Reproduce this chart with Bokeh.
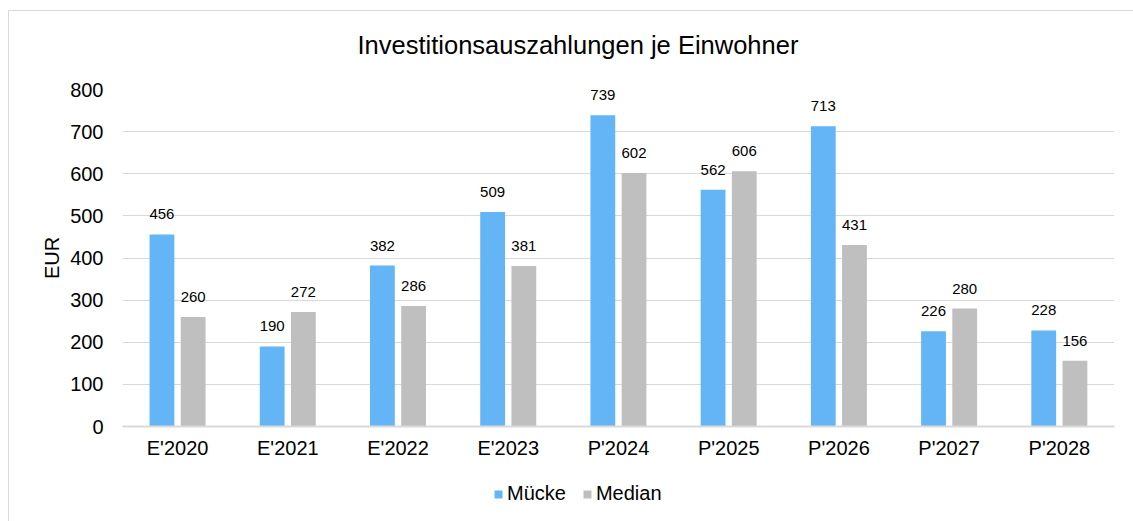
from bokeh.plotting import figure
from bokeh.layouts import column
from bokeh.models import ColumnDataSource, FactorRange, Range1d, LabelSet, Label, Legend, LegendItem
from bokeh.transform import dodge
from bokeh.core.properties import value
from bokeh.embed import file_html
from bokeh.resources import INLINE

title_text = "Investitionsauszahlungen je Einwohner"
categories = ["E'2020", "E'2021", "E'2022", "E'2023", "P'2024", "P'2025", "P'2026", "P'2027", "P'2028"]
muecke = [456, 190, 382, 509, 739, 562, 713, 226, 228]
median = [260, 272, 286, 381, 602, 606, 431, 280, 156]
series_names = ["Mücke", "Median"]
y_ticks = [0, 100, 200, 300, 400, 500, 600, 700, 800]

FONT = "Liberation Sans"
BLUE = "#63B5F6"
GREY = "#BFBFBF"
BORDER = "1px solid #d9d9d9"

src = ColumnDataSource(dict(
    cat=categories,
    m=muecke,
    d=median,
    ml=[str(v) for v in muecke],
    dl=[str(v) for v in median],
))

# title strip
pt = figure(width=1125, height=60, output_backend="svg", toolbar_location=None,
            x_axis_type=None, y_axis_type=None, min_border=0)
pt.styles = {"border-left": BORDER, "border-top": BORDER}
pt.outline_line_color = None
pt.grid.visible = False
pt.add_layout(Label(x=235, y=27, x_units="screen", y_units="screen", text=title_text,
                    text_align="left", text_baseline="middle", text_font=FONT,
                    text_font_size="25.5px", text_color="#000000"))

p = figure(
    width=1125, height=406,
    x_range=FactorRange(*categories, range_padding=0),
    y_range=Range1d(0, 800),
    output_backend="svg", toolbar_location=None,
    min_border_left=113, min_border_right=20, min_border_top=19, min_border_bottom=50,
)
p.styles = {"border-left": BORDER}
p.outline_line_color = None
p.background_fill_color = "white"
p.border_fill_color = "white"

r1 = p.vbar(x=dodge("cat", -0.142, range=p.x_range), top="m", width=0.225, source=src,
            fill_color=BLUE, line_color=None)
r2 = p.vbar(x=dodge("cat", 0.141, range=p.x_range), top="d", width=0.225, source=src,
            fill_color=GREY, line_color=None)

for col, lab, off in (("m", "ml", -0.142), ("d", "dl", 0.141)):
    ls = LabelSet(x=dodge("cat", off, range=p.x_range), y=col, text=lab, source=src,
                  text_align="center", text_baseline="alphabetic", y_offset=15,
                  text_font=value(FONT), text_font_size=value("15px"), text_color="#000000")
    p.add_layout(ls)

p.xgrid.grid_line_color = None
p.ygrid.grid_line_color = "#d9d9d9"
p.ygrid.grid_line_width = 1

p.yaxis.ticker = y_ticks
p.yaxis.axis_line_color = None
p.yaxis.major_tick_line_color = None
p.yaxis.minor_tick_line_color = None
p.yaxis.major_tick_out = 0
p.yaxis.major_label_standoff = 19
p.yaxis.major_label_text_font = FONT
p.yaxis.major_label_text_font_size = "20px"
p.yaxis.major_label_text_color = "#000000"
p.yaxis.axis_label = "EUR"
p.yaxis.axis_label_text_font = FONT
p.yaxis.axis_label_text_font_size = "20px"
p.yaxis.axis_label_text_font_style = "normal"
p.yaxis.axis_label_text_color = "#000000"
p.yaxis.axis_label_standoff = 4

p.xaxis.axis_line_color = "#d9d9d9"
p.xaxis.axis_line_width = 2
p.xaxis.major_tick_line_color = None
p.xaxis.minor_tick_line_color = None
p.xaxis.major_tick_out = 0
p.xaxis.major_label_standoff = 10
p.xaxis.major_label_text_font = FONT
p.xaxis.major_label_text_font_size = "20px"
p.xaxis.major_label_text_color = "#000000"

# legend strip below the chart (hidden renderers only provide legend swatches)
pl = figure(width=1125, height=45, output_backend="svg", toolbar_location=None,
            x_range=FactorRange(*categories), y_range=Range1d(0, 800),
            x_axis_type=None, y_axis_type=None, min_border=0)
pl.styles = {"border-left": BORDER}
pl.outline_line_color = None
pl.grid.visible = False
l1 = pl.vbar(x="cat", top="m", width=0.2, source=src, fill_color=BLUE, line_color=None)
l2 = pl.vbar(x="cat", top="d", width=0.2, source=src, fill_color=GREY, line_color=None)
l1.visible = False
l2.visible = False
legend = Legend(items=[LegendItem(label=series_names[0], renderers=[l1]),
                       LegendItem(label=series_names[1], renderers=[l2])],
                orientation="horizontal", location=(371, 16),
                glyph_width=10, glyph_height=10, label_standoff=4, spacing=16,
                padding=0, margin=0, border_line_color=None, background_fill_alpha=0,
                label_text_font=FONT, label_text_font_size="20px", label_text_color="#000000")
pl.add_layout(legend, "center")

layout = column(pt, p, pl, spacing=0)
layout.styles = {"margin-left": "8px", "margin-top": "10px"}

open("out.html", "w").write(file_html(layout, INLINE))
